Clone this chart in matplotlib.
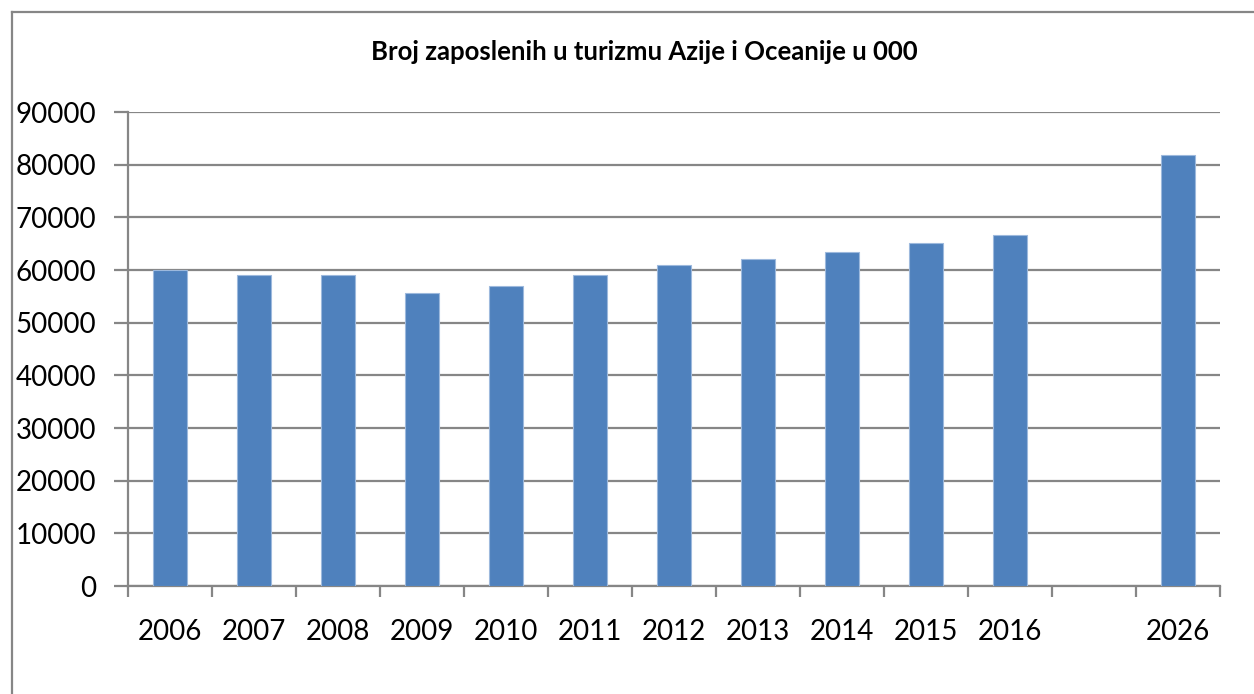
import matplotlib
matplotlib.use('Agg')
import matplotlib.pyplot as plt
from matplotlib.lines import Line2D
import numpy as np

# data
years = ['2006', '2007', '2008', '2009', '2010', '2011', '2012', '2013', '2014', '2015', '2016', '', '2026']
values = [60000, 59000, 59000, 55600, 57000, 59000, 60900, 62000, 63500, 65200, 66700, None, 81800]
title = 'Broj zaposlenih u turizmu Azije i Oceanije u 000'

plt.rcParams['font.family'] = ['Lato', 'DejaVu Sans']
grid_c = '#868686'

fig = plt.figure(figsize=(12.54, 6.94), dpi=100)
ax = fig.add_axes([0.102, 0.1556, 0.871, 0.683])

x = np.arange(len(years))
heights = [v if v is not None else 0 for v in values]
ax.bar(x, heights, width=0.4, color='#4F81BD', edgecolor='#9DB9DD', linewidth=0.8, zorder=3)

ax.set_xlim(-0.5, len(years) - 0.5)
ax.set_ylim(0, 90000)
ax.set_yticks(np.arange(0, 90001, 10000))
ax.yaxis.grid(True, color=grid_c, linewidth=1.6)
ax.set_axisbelow(True)

ax.set_xticks(x)
ax.set_xticklabels(years)
ax.set_xticks(np.arange(-0.5, len(years)), minor=True)
ax.tick_params(axis='x', which='major', length=0, labelsize=20, pad=24)
ax.tick_params(axis='x', which='minor', length=8, width=1.6, color=grid_c, direction='out')
ax.tick_params(axis='y', length=10, width=1.6, color=grid_c, labelsize=20, pad=13)

for s in ['top', 'right']:
    ax.spines[s].set_visible(False)
for s in ['left', 'bottom']:
    ax.spines[s].set_color(grid_c)
    ax.spines[s].set_linewidth(1.6)

fig.text(0.5136, 0.925, title, ha='center', va='center', fontsize=18.5, fontweight='bold')

# outer chart frame (top and left edges visible)
fig.add_artist(Line2D([12 / 1254, 1.0], [1 - 12 / 694, 1 - 12 / 694], color=grid_c, linewidth=1.6))
fig.add_artist(Line2D([12 / 1254, 12 / 1254], [0.0, 1 - 12 / 694], color=grid_c, linewidth=1.6))

fig.savefig('out.png', dpi=100)
